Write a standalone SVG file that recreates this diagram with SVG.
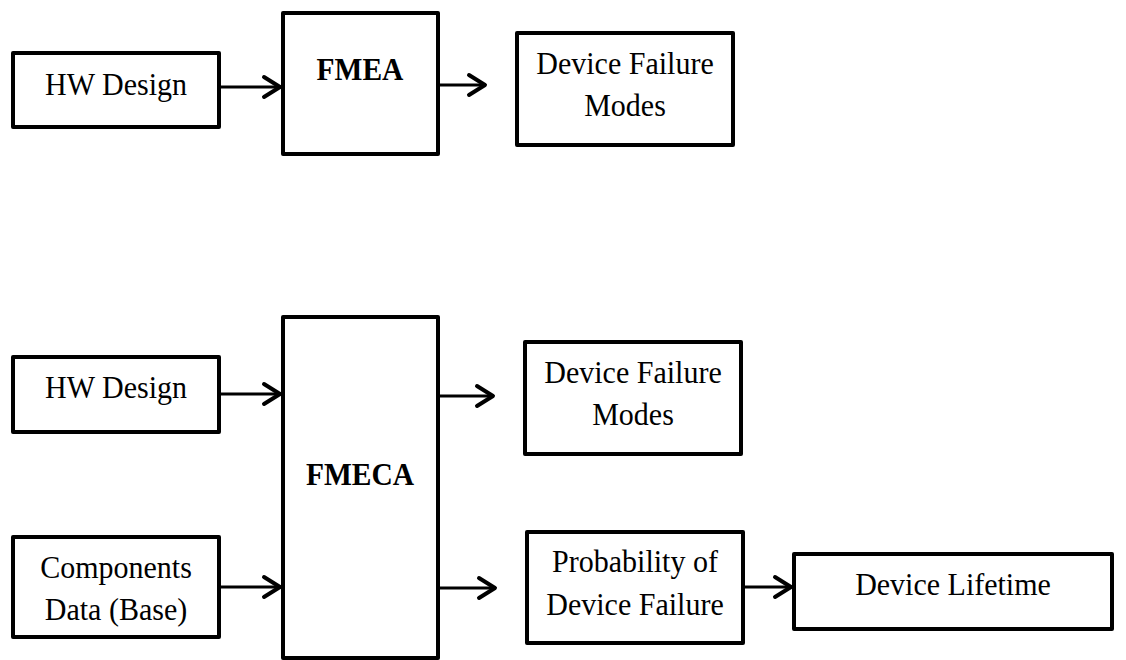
<svg xmlns="http://www.w3.org/2000/svg" width="1126" height="660" viewBox="0 0 1126 660">
  <style>
    .box { fill: #ffffff; stroke: #000000; stroke-width: 4; stroke-linejoin: round; }
    .lbl { font-family: "Liberation Serif", "Times New Roman", serif; font-size: 30px; fill: #000000; text-anchor: middle; }
    .bold { font-weight: bold; font-size: 29.5px; }
    .wire { fill: none; stroke: #000000; stroke-width: 3; }
    .head { fill: none; stroke: #000000; stroke-width: 4; stroke-linecap: round; stroke-linejoin: round; }
  </style>
  <rect width="1126" height="660" fill="#ffffff"/>

  <!-- FMEA flow (labels are slightly stretched vertically) -->
  <g id="fmea-hw-design">
    <rect class="box" x="13" y="53" width="206" height="74"/>
    <text class="lbl" transform="translate(116 95) scale(1 1.08)">HW Design</text>
  </g>
  <g id="fmea">
    <rect class="box" x="283" y="13" width="155" height="141"/>
    <text class="lbl bold" transform="translate(360 80) scale(1 1.06)">FMEA</text>
  </g>
  <g id="fmea-failure-modes">
    <rect class="box" x="517" y="33" width="216" height="112"/>
    <text class="lbl" transform="translate(625 74) scale(1 1.08)">Device Failure</text>
    <text class="lbl" transform="translate(625 116) scale(1 1.08)">Modes</text>
  </g>

  <!-- FMECA flow -->
  <g id="fmeca-hw-design">
    <rect class="box" x="13" y="357" width="206" height="75"/>
    <text class="lbl" transform="translate(116 398) scale(1 1.08)">HW Design</text>
  </g>
  <g id="components-data">
    <rect class="box" x="13" y="537" width="206" height="100"/>
    <text class="lbl" transform="translate(116 578) scale(1 1.08)">Components</text>
    <text class="lbl" transform="translate(116 620) scale(1 1.08)">Data (Base)</text>
  </g>
  <g id="fmeca">
    <rect class="box" x="283" y="317" width="155" height="341"/>
    <text class="lbl bold" transform="translate(360 485) scale(1 1.06)">FMECA</text>
  </g>
  <g id="fmeca-failure-modes">
    <rect class="box" x="525" y="342" width="216" height="112"/>
    <text class="lbl" transform="translate(633 383) scale(1 1.08)">Device Failure</text>
    <text class="lbl" transform="translate(633 425) scale(1 1.08)">Modes</text>
  </g>
  <g id="failure-probability">
    <rect class="box" x="527" y="532" width="216" height="111"/>
    <text class="lbl" transform="translate(635 572) scale(1 1.08)">Probability of</text>
    <text class="lbl" transform="translate(635 615) scale(1 1.08)">Device Failure</text>
  </g>
  <g id="device-lifetime">
    <rect class="box" x="794" y="554" width="318" height="75"/>
    <text class="lbl" transform="translate(953 595) scale(1 1.08)">Device Lifetime</text>
  </g>

  <!-- connectors: straight shafts with open chevron heads -->
  <g id="connectors">
    <path class="wire" d="M219 87 H279"/>
    <path class="head" d="M264 77 L280 87 L264 97"/>
    <path class="wire" d="M438 85 H484"/>
    <path class="head" d="M469 75 L485 85 L469 95"/>
    <path class="wire" d="M219 394 H279"/>
    <path class="head" d="M264 384 L280 394 L264 404"/>
    <path class="wire" d="M219 587 H279"/>
    <path class="head" d="M264 577 L280 587 L264 597"/>
    <path class="wire" d="M438 396 H492"/>
    <path class="head" d="M477 386 L493 396 L477 406"/>
    <path class="wire" d="M438 588 H494"/>
    <path class="head" d="M479 578 L495 588 L479 598"/>
    <path class="wire" d="M743 587 H790"/>
    <path class="head" d="M775 577 L791 587 L775 597"/>
  </g>
</svg>
